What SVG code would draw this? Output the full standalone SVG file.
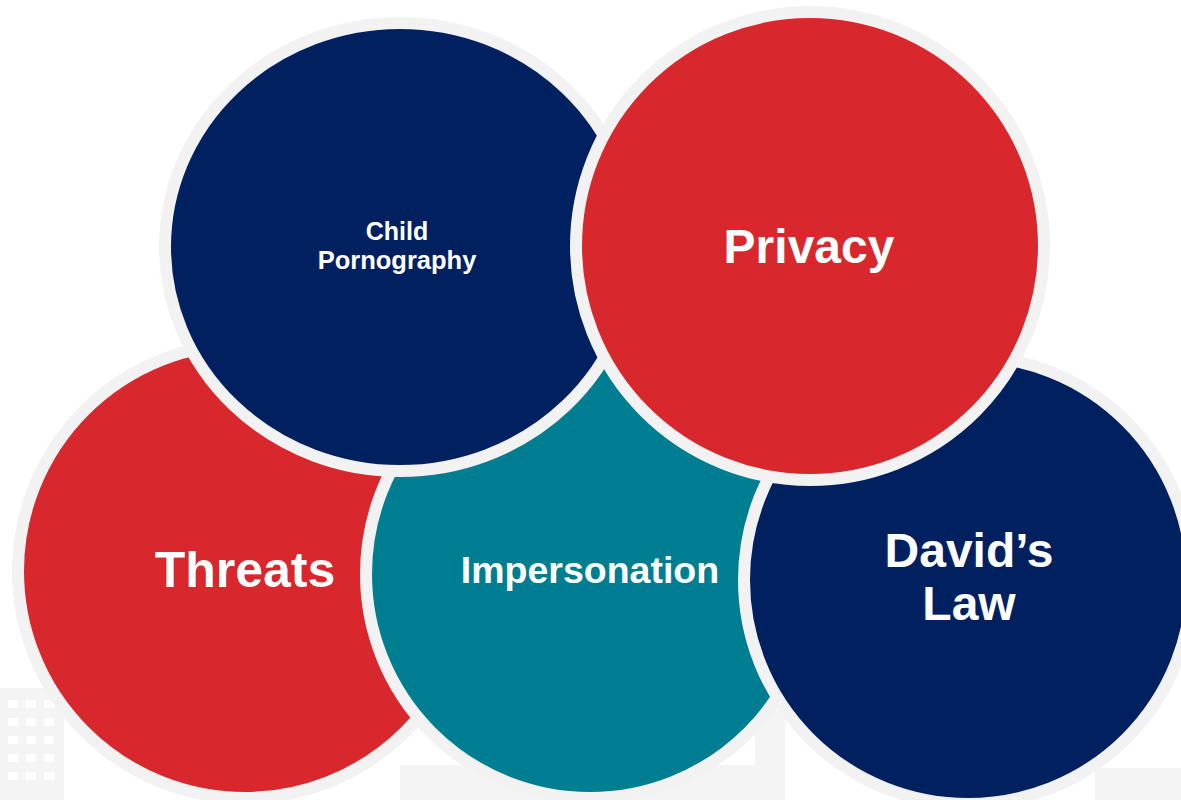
<svg xmlns="http://www.w3.org/2000/svg" width="1181" height="800" viewBox="0 0 1181 800">
  <style>
    .ring { stroke: #f2f2f2; stroke-width: 12; }
    .red { fill: #d8282d; }
    .navy { fill: #012060; }
    .teal { fill: #007e91; }
    .lbl { font-family: "Liberation Sans", Arial, sans-serif; font-weight: bold; fill: #ffffff; text-anchor: middle; }
    .bld { fill: #f4f4f4; }
    .win { fill: #ffffff; }
  </style>
  <rect width="1181" height="800" fill="#ffffff"/>
  <g id="background">
    <rect class="bld" x="0" y="688" width="64" height="112"/>
    <rect class="win" x="8" y="700" width="10" height="8"/>
    <rect class="win" x="26" y="700" width="10" height="8"/>
    <rect class="win" x="44" y="700" width="10" height="8"/>
    <rect class="win" x="8" y="718" width="10" height="8"/>
    <rect class="win" x="26" y="718" width="10" height="8"/>
    <rect class="win" x="44" y="718" width="10" height="8"/>
    <rect class="win" x="8" y="736" width="10" height="8"/>
    <rect class="win" x="26" y="736" width="10" height="8"/>
    <rect class="win" x="44" y="736" width="10" height="8"/>
    <rect class="win" x="8" y="754" width="10" height="8"/>
    <rect class="win" x="26" y="754" width="10" height="8"/>
    <rect class="win" x="44" y="754" width="10" height="8"/>
    <rect class="win" x="8" y="772" width="10" height="8"/>
    <rect class="win" x="26" y="772" width="10" height="8"/>
    <rect class="win" x="44" y="772" width="10" height="8"/>
    <rect class="bld" x="400" y="765" width="380" height="35"/>
    <rect class="bld" x="755" y="710" width="30" height="90"/>
    <rect class="bld" x="1095" y="768" width="86" height="32"/>
  </g>
  <g id="node-threats">
    <circle class="ring red" cx="245" cy="571" r="227"/>
    <text class="lbl" x="245" y="587" font-size="50">Threats</text>
  </g>
  <g id="node-impersonation">
    <circle class="ring teal" cx="590" cy="574" r="224"/>
    <text class="lbl" x="590" y="583" font-size="37.5">Impersonation</text>
  </g>
  <g id="node-davids-law">
    <circle class="ring navy" cx="968" cy="580" r="224"/>
    <text class="lbl" x="969" y="567" font-size="48">David’s</text>
    <text class="lbl" x="969" y="620" font-size="48">Law</text>
  </g>
  <g id="node-child-pornography">
    <ellipse class="ring navy" cx="400" cy="247" rx="235" ry="224"/>
    <text class="lbl" x="397" y="240" font-size="25">Child</text>
    <text class="lbl" x="397" y="269" font-size="25.5">Pornography</text>
  </g>
  <g id="node-privacy">
    <circle class="ring red" cx="810" cy="246" r="234"/>
    <text class="lbl" x="809" y="263" font-size="48">Privacy</text>
  </g>
  <g id="connectors"></g>
</svg>
